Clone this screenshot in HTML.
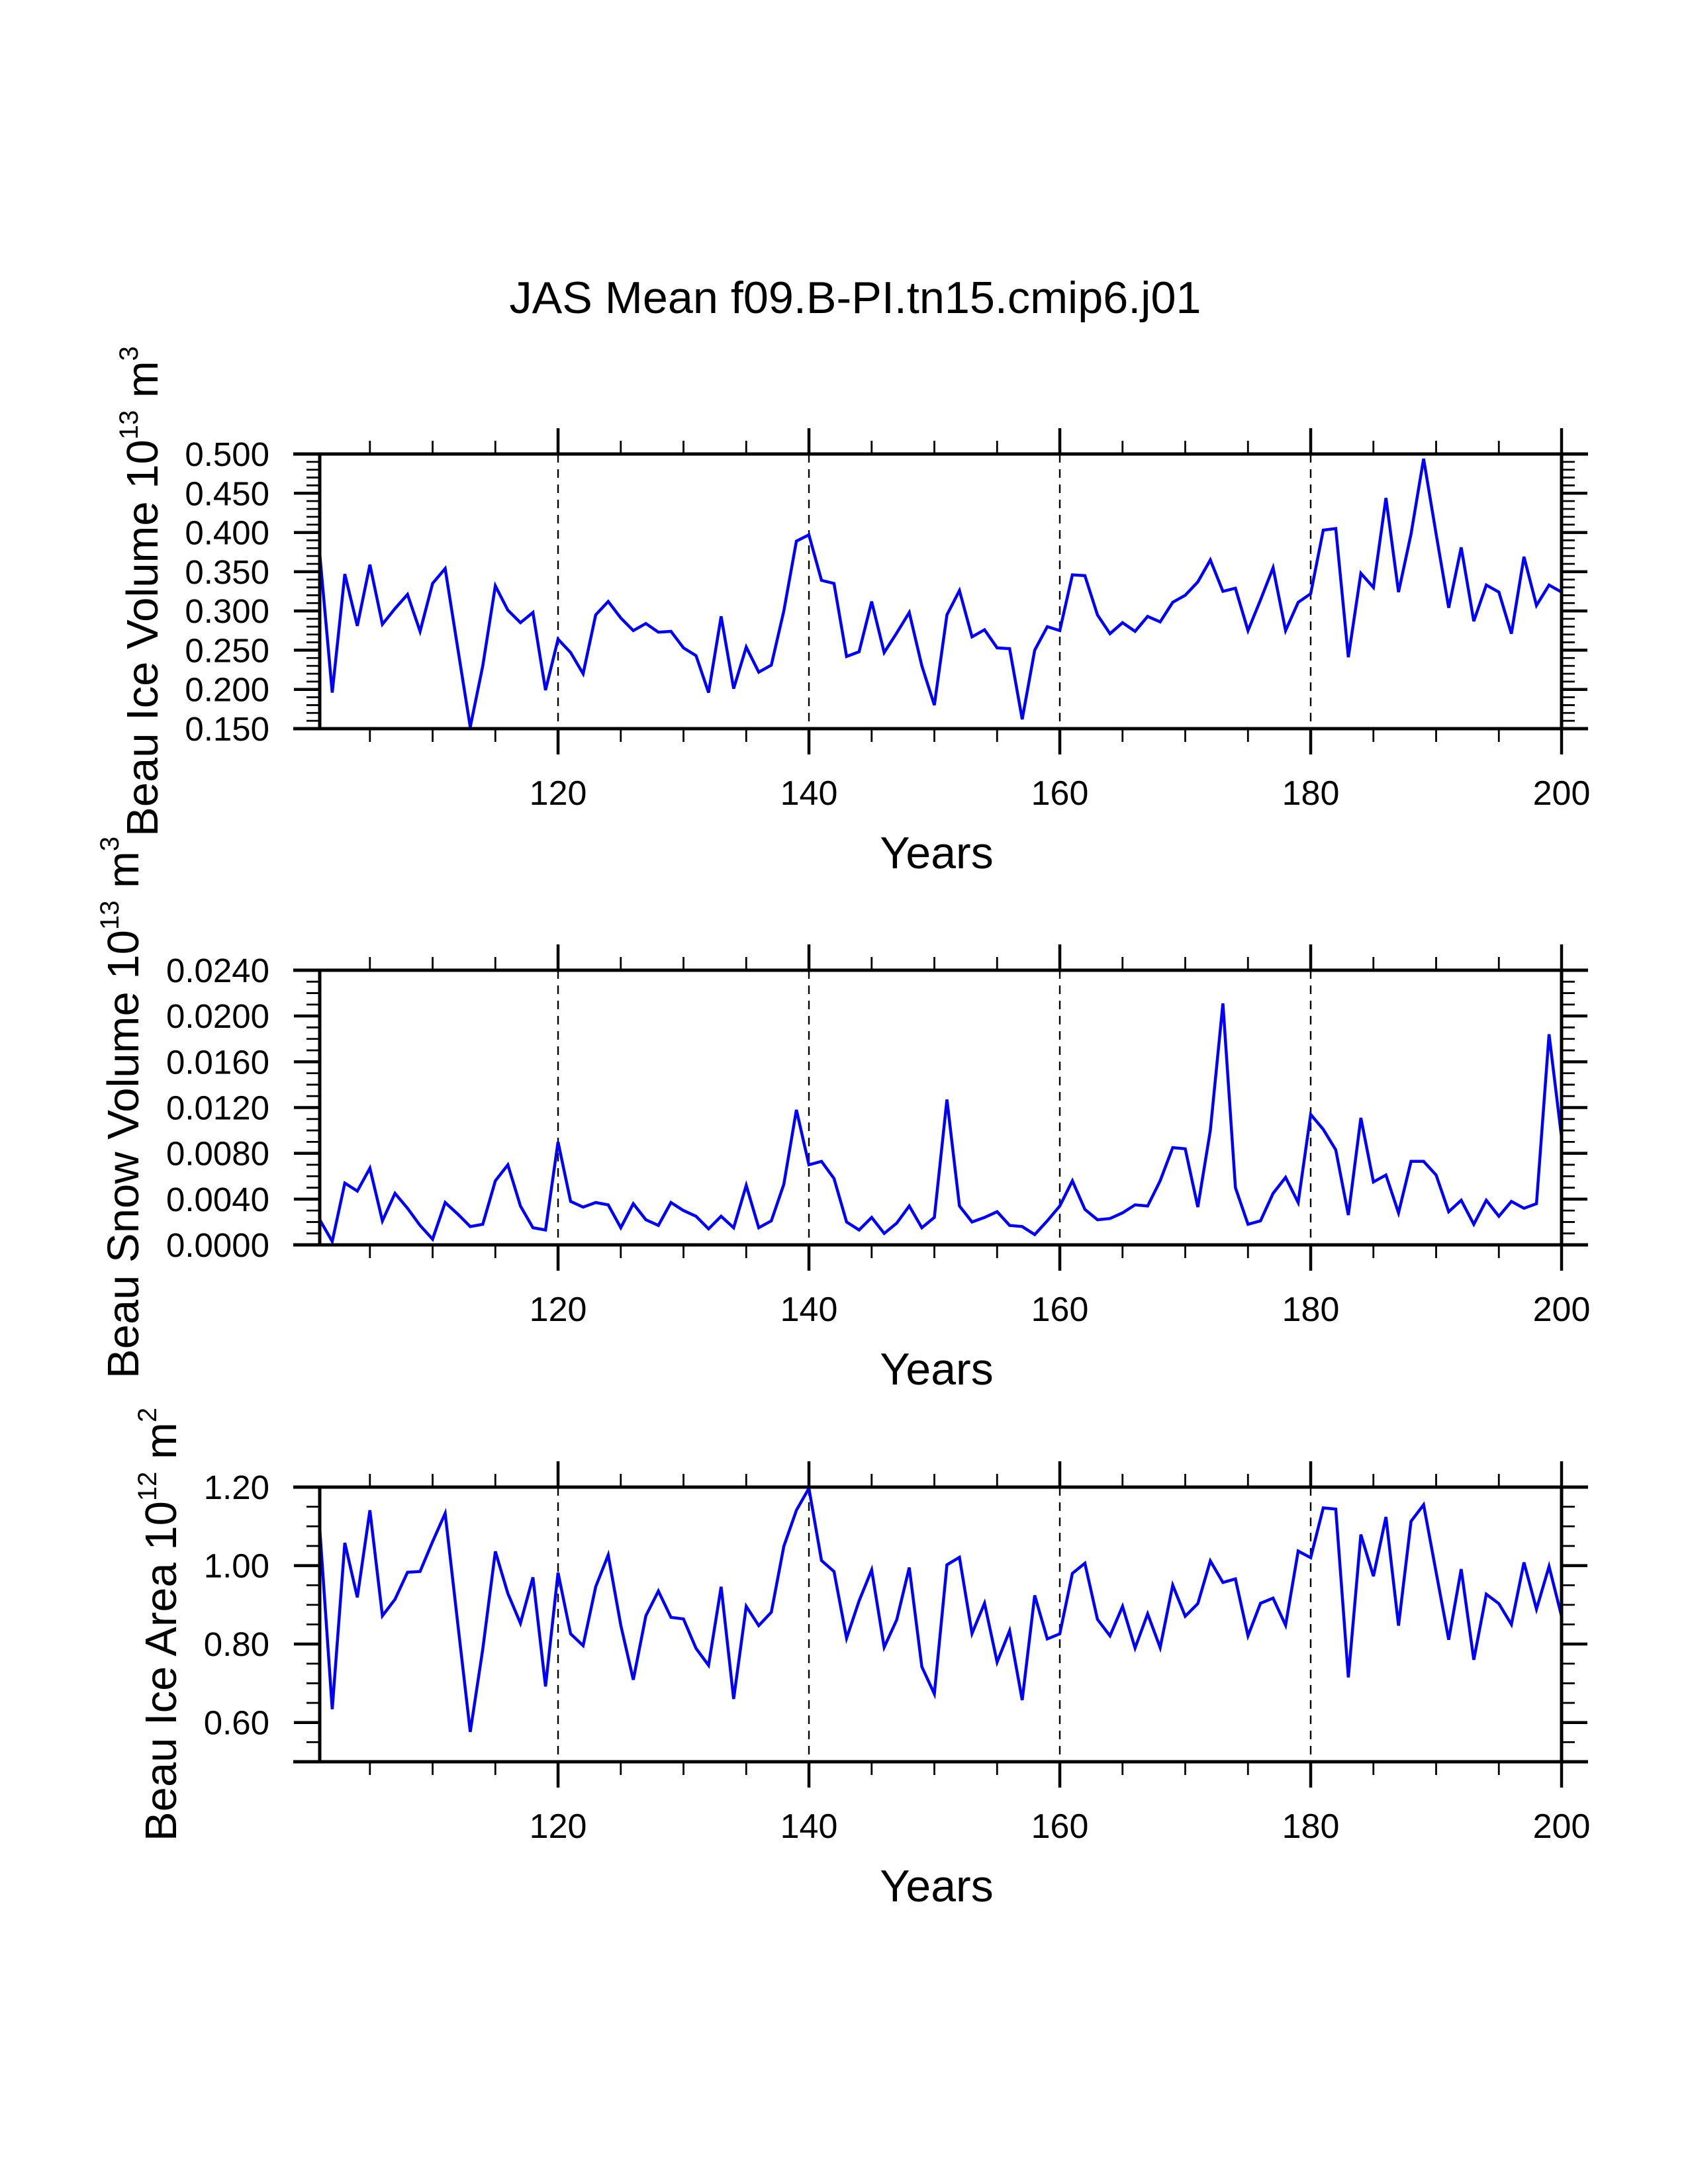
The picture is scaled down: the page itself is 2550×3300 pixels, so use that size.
<!DOCTYPE html>
<html>
<head>
<meta charset="utf-8">
<style>
  html, body { margin: 0; padding: 0; background: #fff; }
  svg { display: block; }
  text { font-family: "Liberation Sans", "DejaVu Sans", sans-serif; fill: #000; }
</style>
</head>
<body>
<svg id="chart" xmlns="http://www.w3.org/2000/svg" width="2550" height="3300" viewBox="0 0 2550 3300">
  <rect x="0" y="0" width="2550" height="3300" fill="#fff"/>
  <text x="1292" y="473" font-size="68" text-anchor="middle" textLength="1045" lengthAdjust="spacingAndGlyphs">JAS Mean f09.B-PI.tn15.cmip6.j01</text>
</svg>
<script>
// ---- data ----
const firstYear = 101;
const xTickValues = [120, 140, 160, 180, 200];
const xTickLabels = ["120", "140", "160", "180", "200"];

const iceVolume = [0.373,0.196,0.347,0.281,0.359,0.283,0.303,0.321,0.274,0.335,
  0.354,0.253,0.152,0.230,0.332,0.301,0.285,0.298,0.199,0.264,
  0.247,0.220,0.295,0.312,0.291,0.275,0.284,0.273,0.274,0.253,
  0.243,0.196,0.293,0.201,0.254,0.222,0.231,0.300,0.389,0.397,
  0.339,0.335,0.242,0.248,0.312,0.247,0.272,0.298,0.230,0.180,
  0.295,0.326,0.267,0.276,0.253,0.252,0.162,0.250,0.280,0.275,
  0.346,0.345,0.295,0.271,0.285,0.274,0.293,0.286,0.311,0.320,
  0.337,0.365,0.325,0.329,0.275,0.314,0.355,0.275,0.311,0.322,
  0.403,0.405,0.241,0.348,0.330,0.444,0.324,0.398,0.494,0.398,
  0.304,0.381,0.287,0.333,0.324,0.271,0.369,0.307,0.333,0.324];
const iceVolumeTicks = [0.150,0.200,0.250,0.300,0.350,0.400,0.450,0.500];
const iceVolumeTickLabels = ["0.150","0.200","0.250","0.300","0.350","0.400","0.450","0.500"];

const snowVolume = [0.0022,0.0003,0.0054,0.0047,0.0067,0.0021,0.0045,0.0032,0.0017,0.0005,
  0.0037,0.0027,0.0016,0.0018,0.0056,0.0070,0.0034,0.0015,0.0013,0.0090,
  0.0038,0.0033,0.0037,0.0035,0.0015,0.0036,0.0022,0.0017,0.0037,0.0030,
  0.0025,0.0014,0.0025,0.0015,0.0052,0.0015,0.0021,0.0053,0.0118,0.0070,
  0.0073,0.0058,0.0020,0.0013,0.0024,0.0010,0.0019,0.0034,0.0015,0.0024,
  0.0127,0.0034,0.0020,0.0024,0.0029,0.0017,0.0016,0.0009,0.0021,0.0034,
  0.0056,0.0031,0.0022,0.0023,0.0028,0.0035,0.0034,0.0056,0.0085,0.0084,
  0.0033,0.0100,0.0211,0.0050,0.0018,0.0021,0.0045,0.0059,0.0037,0.0114,
  0.0101,0.0083,0.0026,0.0111,0.0055,0.0061,0.0028,0.0073,0.0073,0.0061,
  0.0029,0.0039,0.0018,0.0039,0.0025,0.0038,0.0032,0.0036,0.0184,0.0094];
const snowTicks = [0,0.004,0.008,0.012,0.016,0.020,0.024];
const snowTickLabels = ["0.0000","0.0040","0.0080","0.0120","0.0160","0.0200","0.0240"];

const iceArea = [1.095,0.634,1.058,0.919,1.141,0.872,0.914,0.983,0.985,1.061,
  1.133,0.854,0.576,0.787,1.036,0.929,0.853,0.970,0.692,0.982,
  0.826,0.796,0.946,1.027,0.848,0.709,0.872,0.935,0.868,0.864,
  0.789,0.746,0.946,0.660,0.896,0.847,0.881,1.049,1.141,1.197,
  1.013,0.985,0.815,0.910,0.989,0.792,0.862,0.995,0.742,0.673,
  1.002,1.021,0.827,0.904,0.754,0.834,0.657,0.924,0.813,0.826,
  0.980,1.006,0.863,0.821,0.896,0.790,0.877,0.791,0.950,0.871,
  0.903,1.012,0.957,0.966,0.821,0.904,0.917,0.848,1.037,1.020,
  1.147,1.144,0.715,1.079,0.973,1.124,0.847,1.113,1.155,0.983,
  0.811,0.991,0.760,0.927,0.903,0.850,1.008,0.889,0.998,0.871];
const areaTicks = [0.60,0.80,1.00,1.20];
const areaTickLabels = ["0.60","0.80","1.00","1.20"];

// ---- layout ----
const NS = "http://www.w3.org/2000/svg";
const svg = document.getElementById("chart");
const X0 = 483, X1 = 2359, YEAR_MIN = 101, YEAR_MAX = 200;
const PH = 415;
function xScale(yr) { return X0 + (yr - YEAR_MIN) / (YEAR_MAX - YEAR_MIN) * (X1 - X0); }

function mk(tag, attrs, parent) {
  const el = document.createElementNS(NS, tag);
  for (const k in attrs) el.setAttribute(k, attrs[k]);
  (parent || svg).appendChild(el);
  return el;
}

function drawPanel(cfg) {
  const g = mk("g", {});
  
  
  const top = cfg.top, bot = cfg.top + PH;
  const yScale = v => bot - (v - cfg.ymin) / (cfg.ymax - cfg.ymin) * PH;

  for (const t of [120, 140, 160, 180]) {
    const l = mk("line", {x1: xScale(t), x2: xScale(t), y1: top, y2: bot, stroke: "#000", "stroke-width": 2.4, "stroke-dasharray": "13 10"}, g);
    
    
  }

  const nMinor = Math.round((cfg.ymax - cfg.ymin) / cfg.yminor);
  for (let i = 0; i <= nMinor; i++) {
    const v = cfg.ymin + i * cfg.yminor;
    const isMajor = cfg.ticks.some(t => Math.abs(t - v) < cfg.yminor / 10);
    const len = isMajor ? 39 : 20, w = isMajor ? 4.5 : 2.8;
    const y = yScale(v);
    const a = mk("line", {x1: X0 - len, x2: X0, y1: y, y2: y, stroke: "#000", "stroke-width": w}, g);
    
    
    const b = mk("line", {x1: X1, x2: X1 + len, y1: y, y2: y, stroke: "#000", "stroke-width": w}, g);
    
    
  }
  cfg.ticks.forEach((t, i) => {
    const tx = mk("text", {x: 407, y: yScale(t) + 18, "font-size": 51, "text-anchor": "end"}, g);
    tx.textContent = cfg.tickLabels[i];
    
    
  });

  for (let yr = 105; yr <= 200; yr += 5) {
    const isMajor = yr % 20 === 0;
    const len = isMajor ? 39 : 20, w = isMajor ? 4.5 : 2.8;
    const x = xScale(yr);
    const a = mk("line", {x1: x, x2: x, y1: top - len, y2: top, stroke: "#000", "stroke-width": w}, g);
    
    
    const b = mk("line", {x1: x, x2: x, y1: bot, y2: bot + len, stroke: "#000", "stroke-width": w}, g);
    
    
  }
  xTickValues.forEach((t, i) => {
    const tx = mk("text", {x: xScale(t), y: bot + 115, "font-size": 52, "text-anchor": "middle"}, g);
    tx.textContent = xTickLabels[i];
    
    
  });

  const pts = cfg.values.map((v, i) => xScale(firstYear + i).toFixed(1) + "," + yScale(v).toFixed(1)).join(" ");
  const pl = mk("polyline", {points: pts, fill: "none", stroke: "#0000ff", "stroke-width": 4.5, "stroke-linejoin": "miter"}, g);
  
  

  const fr = [
    [X0 - 40, top, X1 + 40, top],
    [X0 - 40, bot, X1 + 40, bot],
    [X0, top, X0, bot],
    [X1, top, X1, bot]
  ];
  fr.forEach(f => {
    const l = mk("line", {x1: f[0], y1: f[1], x2: f[2], y2: f[3], stroke: "#000", "stroke-width": 5}, g);
    
    
  });

  const xt = mk("text", {x: 1415, y: bot + 211, "font-size": 68, "text-anchor": "middle"}, g);
  xt.textContent = "Years";
  
  

  const cy = (top + bot) / 2;
  const yt = mk("text", {x: 0, y: 0, "font-size": 67, "text-anchor": "middle",
    transform: "translate(" + cfg.titleX + "," + cy + ") rotate(-90)"}, g);
  
  
  const t1 = mk("tspan", {}, yt); t1.textContent = cfg.title + " 10";
  const t2 = mk("tspan", {dy: -30, "font-size": 40}, yt); t2.textContent = cfg.exp;
  const t3 = mk("tspan", {dy: 30}, yt); t3.textContent = " m";
  const t4 = mk("tspan", {dy: -30, "font-size": 40}, yt); t4.textContent = cfg.unitExp;
}

drawPanel({name: "ice-volume", top: 686, ymin: 0.15, ymax: 0.5, yminor: 0.01,
  ticks: iceVolumeTicks, tickLabels: iceVolumeTickLabels, values: iceVolume,
  title: "Beau Ice Volume", exp: "13", unitExp: "3", titleX: 238});
drawPanel({name: "snow-volume", top: 1466, ymin: 0, ymax: 0.024, yminor: 0.001,
  ticks: snowTicks, tickLabels: snowTickLabels, values: snowVolume,
  title: "Beau Snow Volume", exp: "13", unitExp: "3", titleX: 209});
drawPanel({name: "ice-area", top: 2247, ymin: 0.5, ymax: 1.2, yminor: 0.05,
  ticks: areaTicks, tickLabels: areaTickLabels, values: iceArea,
  title: "Beau Ice Area", exp: "12", unitExp: "2", titleX: 266});
</script>
</body>
</html>
